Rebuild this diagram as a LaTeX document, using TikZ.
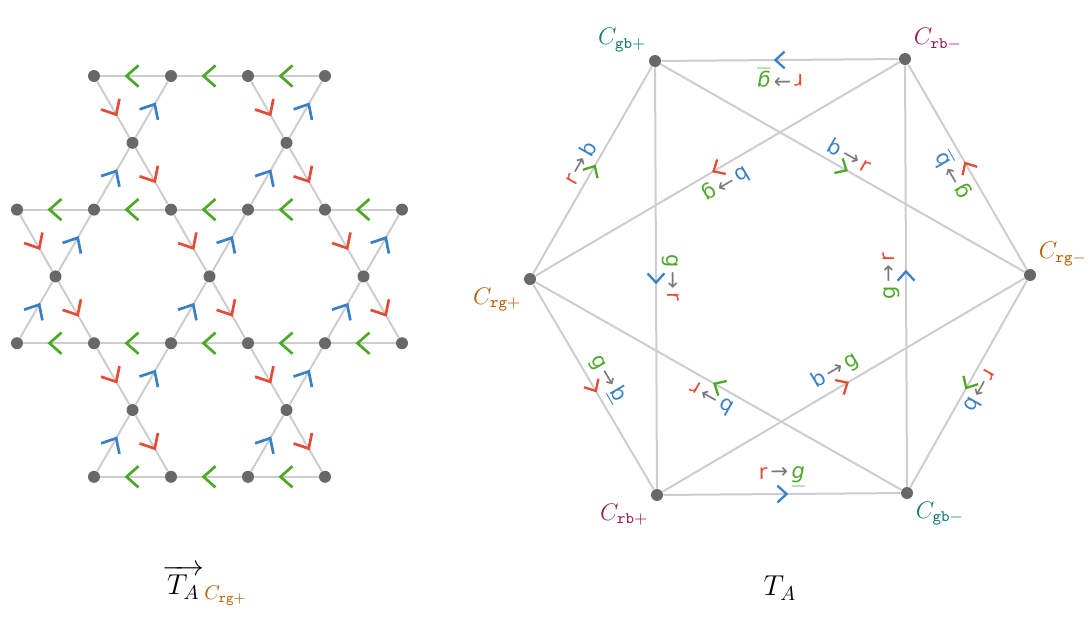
\documentclass[tikz,border=0pt]{standalone}
\usepackage{amsmath, amssymb}
\usepackage{fontspec}
\newfontfamily\labfont{DejaVu Sans}
\usepackage{tikz}
\usetikzlibrary{decorations,decorations.markings,calc}
\definecolor{cred}{RGB}{228,76,54}
\definecolor{cgreen}{RGB}{78,168,40}
\definecolor{cblue}{RGB}{58,128,196}
\definecolor{cteal}{RGB}{18,125,120}
\definecolor{cmagenta}{RGB}{155,28,92}
\definecolor{corange}{RGB}{184,96,8}
\definecolor{linegray}{RGB}{205,205,205}
\definecolor{dotgray}{RGB}{104,104,104}
\definecolor{arrowgray}{RGB}{120,120,120}
\tikzset{
	flow/.style={postaction={decorate}, decoration={markings, mark=at position .5 with {\draw[#1, line width=1.15pt, line join=miter] (-2.3pt,4.2pt) -- (2.3pt,0pt) -- (-2.3pt,-4.2pt);}}},
	bigflow/.style={postaction={decorate}, decoration={markings, mark=at position .5 with {\draw[#1, line width=1.35pt, line join=miter] (-3pt,5.3pt) -- (3pt,0pt) -- (-3pt,-5.3pt);}}}
}
\tikzstyle{dot}=[circle, fill=dotgray, inner sep=0pt, minimum size=6pt]
\tikzstyle{link}=[draw=linegray, line width=1pt]
\tikzstyle{lab}=[sloped, allow upside down, above, inner sep=2.8pt, font=\labfont\fontsize{10.5}{12}\selectfont]
\tikzstyle{vname}=[font=\large, label distance=-2pt]
\newcommand{\flowtxt}[4]{\textcolor{#1}{#2}\hspace{1.6pt}\textcolor{arrowgray}{→}\hspace{1.6pt}\textcolor{#3}{#4}}

\begin{document}
\begin{tikzpicture}[x=0.5pt, y=-0.5pt]
	\useasboundingbox (0,0) rectangle (1092,616);
	% kagome lattice
	\foreach \p/\q in {2/0,4/0,6/0,8/0,3/1,7/1,0/2,2/2,4/2,6/2,8/2,10/2,1/3,5/3,9/3,0/4,2/4,4/4,6/4,8/4,10/4,3/5,7/5,2/6,4/6,6/6,8/6}
		\node[dot] (v\p-\q) at ({17+38.5*\p},{76+66.8*\q}) {};
	\foreach \p/\q in {4/0,6/0,8/0,2/2,4/2,6/2,8/2,10/2,2/4,4/4,6/4,8/4,10/4,4/6,6/6,8/6}{
		\pgfmathtruncatemacro\pp{\p-2}
		\draw[link, bigflow=cgreen] (v\p-\q) -- (v\pp-\q);
	}
	\foreach \p/\q in {2/0,6/0,3/1,7/1,0/2,4/2,8/2,1/3,5/3,9/3,2/4,6/4,3/5,7/5}{
		\pgfmathtruncatemacro\pp{\p+1}
		\pgfmathtruncatemacro\qq{\q+1}
		\draw[link, bigflow=cred] (v\p-\q) -- (v\pp-\qq);
	}
	\foreach \p/\q in {3/1,7/1,2/2,6/2,1/3,5/3,9/3,0/4,4/4,8/4,3/5,7/5,2/6,6/6}{
		\pgfmathtruncatemacro\pp{\p+1}
		\pgfmathtruncatemacro\qq{\q-1}
		\draw[link, bigflow=cblue] (v\p-\q) -- (v\pp-\qq);
	}
	\node[font=\Large] (TAvec) at (205,585) {$\overrightarrow{\,T_A\,}_{\textcolor{corange}{C_{\mathtt{rg+}}}}$};

	% quotient graph
	\node[dot, label={[vname, text=cteal]above left:$C_{\mathtt{gb+}}$}] (Cgbp) at (655,61) {};
	\node[dot, label={[vname, text=cmagenta]above right:$C_{\mathtt{rb-}}$}] (Crbm) at (905,59) {};
	\node[dot, label={[vname, text=corange]above right:$C_{\mathtt{rg-}}$}] (Crgm) at (1030,275) {};
	\node[dot, label={[vname, text=cteal]below right:$C_{\mathtt{gb-}}$}] (Cgbm) at (907,493) {};
	\node[dot, label={[vname, text=cmagenta]below left:$C_{\mathtt{rb+}}$}] (Crbp) at (657,495) {};
	\node[dot, label={[vname, text=corange]below left:$C_{\mathtt{rg+}}$}] (Crgp) at (530,279) {};
	\draw[link, flow=cblue] (Crbm) -- node[lab] {\flowtxt{cred}{r}{cgreen}{\underline{\itshape g}}} (Cgbp);
	\draw[link, flow=cblue] (Crbp) -- node[lab] {\flowtxt{cred}{r}{cgreen}{\underline{\itshape g}}} (Cgbm);
	\draw[link, flow=cblue] (Cgbp) -- node[lab] {\flowtxt{cgreen}{g}{cred}{r}} (Crbp);
	\draw[link, flow=cblue] (Cgbm) -- node[lab] {\flowtxt{cgreen}{g}{cred}{r}} (Crbm);
	\draw[link, flow=cgreen] (Crgp) -- node[lab] {\flowtxt{cred}{r}{cblue}{b}} (Cgbp);
	\draw[link, flow=cgreen] (Crgm) -- node[lab] {\flowtxt{cred}{r}{cblue}{b}} (Cgbm);
	\draw[link, flow=cgreen] (Cgbp) -- node[lab] {\flowtxt{cblue}{b}{cred}{r}} (Crgm);
	\draw[link, flow=cgreen] (Cgbm) -- node[lab] {\flowtxt{cblue}{b}{cred}{r}} (Crgp);
	\draw[link, flow=cred] (Crbm) -- node[lab] {\flowtxt{cblue}{b}{cgreen}{g}} (Crgp);
	\draw[link, flow=cred] (Crbp) -- node[lab] {\flowtxt{cblue}{b}{cgreen}{g}} (Crgm);
	\draw[link, flow=cred] (Crgp) -- node[lab] {\flowtxt{cgreen}{g}{cblue}{\underline{b}}} (Crbp);
	\draw[link, flow=cred] (Crgm) -- node[lab] {\flowtxt{cgreen}{g}{cblue}{\underline{b}}} (Crbm);
	\node[font=\Large] (TA) at (780,588) {$T_A$};
\end{tikzpicture}
\end{document}
